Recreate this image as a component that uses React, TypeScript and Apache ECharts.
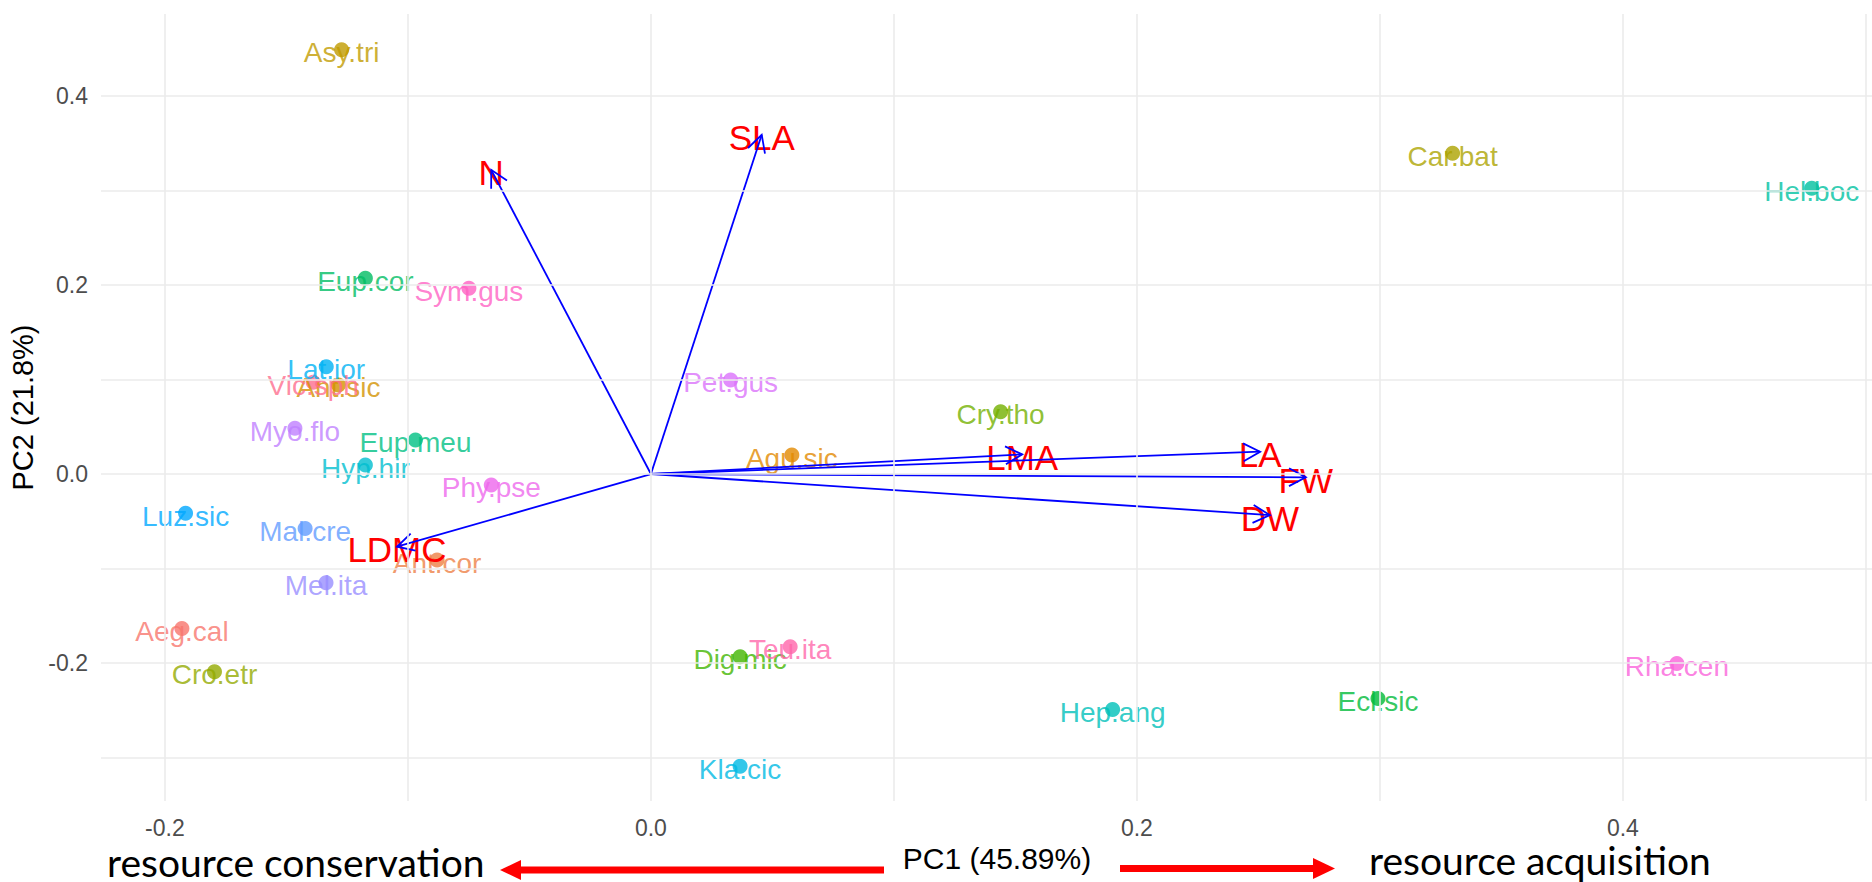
import React, { useEffect, useRef } from "react";
import * as echarts from "echarts";

// ---------- data ----------
const SPECIES = [
  "Aeg.cal", "Ant.cor", "Agu.sic", "Ant.sic", "Asy.tri", "Car.bat", "Cro.etr",
  "Cry.tho", "Dig.mic", "Ecl.sic", "Eup.cor", "Eup.meu", "Hel.boc", "Hep.ang",
  "Hyp.hir", "Kla.cic", "Lat.ior", "Luz.sic", "Mal.cre", "Mel.ita", "Myo.flo",
  "Pet.gus", "Phy.pse", "Rha.cen", "Sym.gus", "Teu.ita", "Vic.sph",
];
const PC1 = [
  -0.193, -0.088, 0.058, -0.1286, -0.1273, 0.3299, -0.1796,
  0.1439, 0.0367, 0.2992, -0.1175, -0.0969, 0.4777, 0.190,
  -0.1175, 0.0367, -0.1336, -0.1915, -0.1423, -0.1337, -0.1465,
  0.0328, -0.0657, 0.4222, -0.0749, 0.0573, -0.139,
];
const PC2 = [
  -0.1633, -0.091, 0.0201, 0.0942, 0.4487, 0.3393, -0.2092,
  0.0659, -0.1933, -0.2374, 0.2071, 0.036, 0.3023, -0.249,
  0.0095, -0.309, 0.1135, -0.0416, -0.0575, -0.115, 0.0483,
  0.0995, -0.0116, -0.2003, 0.1965, -0.1827, 0.097,
];

const TRAITS = ["N", "SLA", "LDMC", "LMA", "LA", "FW", "DW"];
const TRAIT_PC1 = [-0.0657, 0.0456, -0.1045, 0.1528, 0.2507, 0.2695, 0.2547];
const TRAIT_PC2 = [0.3217, 0.3587, -0.0769, 0.0208, 0.0236, -0.0035, -0.0434];

const X_TICKS = [-0.2, 0.0, 0.2, 0.4];
const Y_TICKS = [-0.2, 0.0, 0.2, 0.4];
const X_GRID = [-0.2, -0.1, 0.0, 0.1, 0.2, 0.3, 0.4, 0.5];
const Y_GRID = [-0.3, -0.2, -0.1, 0.0, 0.1, 0.2, 0.3, 0.4];

const X_TITLE = "PC1 (45.89%)";
const Y_TITLE = "PC2 (21.8%)";
const LEFT_NOTE = "resource conservation";
const RIGHT_NOTE = "resource acquisition";

// ---------- style helpers ----------
const RFONT = "'Liberation Sans', Arial, Helvetica, sans-serif";
const NOTE_FONT = "Lato, 'Open Sans', sans-serif";

function hclHex(h: number, c: number, l: number): string {
  const hr = (h * Math.PI) / 180;
  const U = c * Math.cos(hr);
  const V = c * Math.sin(hr);
  const Y = l > 7.999592 ? Math.pow((l + 16) / 116, 3) : l / 903.3;
  const un = 0.1978398;
  const vn = 0.4683363;
  const u = U / (13 * l) + un;
  const v = V / (13 * l) + vn;
  const X = (9 * Y * u) / (4 * v);
  const Z = -X / 3 - 5 * Y + (3 * Y) / v;
  const lin = [
    3.240479 * X - 1.53715 * Y - 0.498535 * Z,
    -0.969256 * X + 1.875992 * Y + 0.041556 * Z,
    0.055648 * X - 0.204043 * Y + 1.057311 * Z,
  ];
  const hex = lin
    .map((t) => {
      let g = t <= 0.0031308 ? 12.92 * t : 1.055 * Math.pow(t, 1 / 2.4) - 0.055;
      g = Math.max(0, Math.min(1, g));
      const s = Math.round(g * 255).toString(16);
      return s.length < 2 ? "0" + s : s;
    })
    .join("");
  return "#" + hex.toUpperCase();
}

export default function App() {
  const ref = useRef<HTMLDivElement>(null);

  useEffect(() => {
    if (!ref.current) return;
    const chart = echarts.init(ref.current, undefined, { renderer: "svg" });
    const n = SPECIES.length;
    const colors = SPECIES.map((_, i) => hclHex(15 + (360 * i) / n, 100, 65));

    const gridLine = { color: "#EBEBEB", width: 1.6, type: "solid" };

    const option: any = {
      animation: false,
      backgroundColor: "#FFFFFF",
      grid: { left: 101, top: 14, right: 0, height: 787, containLabel: false },
      xAxis: {
        type: "value",
        min: -0.2263,
        max: 0.5025,
        axisLine: { show: false },
        axisTick: { show: false },
        splitLine: { show: false },
        axisLabel: {
          customValues: X_TICKS,
          formatter: (v: number) => v.toFixed(1),
          color: "#4D4D4D",
          fontSize: 23,
          fontFamily: RFONT,
          margin: 15,
        },
        name: X_TITLE,
        nameLocation: "middle",
        nameGap: 41,
        nameTextStyle: {
          color: "#000000",
          fontSize: 30,
          fontFamily: RFONT,
          padding: [0, 0, 0, 21],
        },
      },
      yAxis: {
        type: "value",
        min: -0.3458,
        max: 0.4865,
        axisLine: { show: false },
        axisTick: { show: false },
        splitLine: { show: false },
        axisLabel: {
          customValues: Y_TICKS,
          formatter: (v: number) => v.toFixed(1),
          color: "#4D4D4D",
          fontSize: 23,
          fontFamily: RFONT,
          margin: 13,
        },
        name: Y_TITLE,
        nameLocation: "middle",
        nameRotate: 90,
        nameGap: 57,
        nameTextStyle: { color: "#000000", fontSize: 29, fontFamily: RFONT },
      },
      series: [
        {
          type: "scatter",
          data: [],
          z: 0,
          silent: true,
          markLine: {
            silent: true,
            animation: false,
            symbol: ["none", "none"],
            label: { show: false },
            lineStyle: gridLine,
            emphasis: { disabled: true },
            data: [
              ...X_GRID.map((v) => ({ xAxis: v })),
              ...Y_GRID.map((v) => ({ yAxis: v })),
            ],
          },
        },
        {
          type: "scatter",
          z: 2,
          silent: true,
          symbol: "circle",
          symbolSize: 15,
          data: SPECIES.map((s, i) => ({
            name: s,
            value: [PC1[i], PC2[i]],
            itemStyle: { color: colors[i] },
            label: { color: colors[i] },
          })),
          label: {
            show: true,
            position: "inside",
            formatter: "{b}",
            fontSize: 28,
            fontFamily: RFONT,
            offset: [0, 3],
          },
          emphasis: { disabled: true },
        },
        {
          type: "custom",
          z: 3,
          silent: true,
          encode: { x: 0, y: 1 },
          data: TRAITS.map((t, i) => [TRAIT_PC1[i], TRAIT_PC2[i], i]),
          renderItem: (params: any, api: any) => {
            const x = api.value(0);
            const y = api.value(1);
            const idx = api.value(2);
            const o = api.coord([0, 0]);
            const t = api.coord([x, y]);
            const ang = Math.atan2(t[1] - o[1], t[0] - o[0]);
            const L = 19;
            const a = (28 * Math.PI) / 180;
            const p1 = [t[0] - L * Math.cos(ang - a), t[1] - L * Math.sin(ang - a)];
            const p2 = [t[0] - L * Math.cos(ang + a), t[1] - L * Math.sin(ang + a)];
            return {
              type: "group",
              children: [
                {
                  type: "text",
                  x: t[0],
                  y: t[1] + 3,
                  style: {
                    text: TRAITS[idx],
                    fill: "#FF0000",
                    fontSize: 35,
                    fontFamily: RFONT,
                    align: "center",
                    verticalAlign: "middle",
                  },
                },
                {
                  type: "line",
                  shape: { x1: o[0], y1: o[1], x2: t[0], y2: t[1] },
                  style: { stroke: "#0000FF", lineWidth: 1.8 },
                },
                {
                  type: "polyline",
                  shape: { points: [p1, t, p2] },
                  style: { stroke: "#0000FF", lineWidth: 1.8, fill: null },
                },
              ],
            };
          },
        },
      ],
      graphic: [
        {
          type: "rect",
          shape: { x: 518, y: 866.5, width: 366, height: 7 },
          style: { fill: "#FF0000" },
        },
        {
          type: "polygon",
          shape: { points: [[500, 870], [521, 860], [521, 880]] },
          style: { fill: "#FF0000" },
        },
        {
          type: "rect",
          shape: { x: 1120, y: 865, width: 196, height: 7 },
          style: { fill: "#FF0000" },
        },
        {
          type: "polygon",
          shape: { points: [[1335, 868.5], [1313, 858], [1313, 879]] },
          style: { fill: "#FF0000" },
        },
        {
          type: "text",
          x: 107,
          y: 862,
          style: {
            text: LEFT_NOTE,
            fill: "#000000",
            fontSize: 39,
            lineHeight: 28,
            fontFamily: NOTE_FONT,
            align: "left",
            verticalAlign: "middle",
          },
        },
        {
          type: "text",
          x: 1369,
          y: 860,
          style: {
            text: RIGHT_NOTE,
            fill: "#000000",
            fontSize: 39,
            lineHeight: 28,
            fontFamily: NOTE_FONT,
            align: "left",
            verticalAlign: "middle",
          },
        },
      ],
    };

    chart.setOption(option);
    return () => {
      chart.dispose();
    };
  }, []);

  return (
    <div
      ref={ref}
      style={{ position: "absolute", left: 0, top: 0, width: 1872, height: 882, background: "#fff" }}
    />
  );
}
